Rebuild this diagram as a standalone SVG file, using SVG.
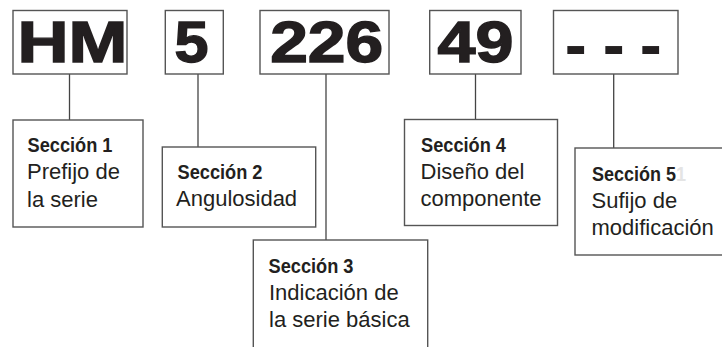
<svg xmlns="http://www.w3.org/2000/svg" width="722" height="347" viewBox="0 0 722 347">
<style>
.box{fill:#fff;stroke:#555;stroke-width:1.4}
.con line{stroke:#444;stroke-width:1.3}
.big{font-family:"Liberation Sans",Arial,sans-serif;font-weight:bold;font-size:57px;fill:#231f20;stroke:#231f20;stroke-width:1.4}
.h{font-family:"Liberation Sans",Arial,sans-serif;font-weight:bold;font-size:21px;fill:#231f20}
.t{font-family:"Liberation Sans",Arial,sans-serif;font-size:22px;fill:#231f20}
</style>
<rect width="722" height="347" fill="#fff"/>
<g class="con">
<line x1="69.5" y1="74" x2="69.5" y2="120"/>
<line x1="198" y1="74" x2="198" y2="147"/>
<line x1="326" y1="74" x2="326" y2="240"/>
<line x1="475.5" y1="74" x2="475.5" y2="119.5"/>
<line x1="613.7" y1="74" x2="613.7" y2="148"/>
</g>
<g id="code-hm">
<rect class="box" x="13" y="10.5" width="114" height="63.5"/>
<text class="big" x="17.5" y="62.3" textLength="110" lengthAdjust="spacingAndGlyphs">HM</text>
</g>
<g id="code-5">
<rect class="box" x="165.3" y="10.5" width="58" height="63.5"/>
<text class="big" x="191.4" y="62.3" text-anchor="middle" textLength="34" lengthAdjust="spacingAndGlyphs">5</text>
</g>
<g id="code-226">
<rect class="box" x="260" y="10.5" width="129" height="63.5"/>
<text class="big" x="326.7" y="62.3" text-anchor="middle" textLength="113" lengthAdjust="spacingAndGlyphs">226</text>
</g>
<g id="code-49">
<rect class="box" x="429.7" y="10.5" width="91.3" height="63.5"/>
<text class="big" x="475.5" y="62.3" text-anchor="middle" textLength="76" lengthAdjust="spacingAndGlyphs">49</text>
</g>
<g id="code-dashes">
<rect class="box" x="553.5" y="10.5" width="124.5" height="63.5"/>
<text class="big" style="font-size:66px;stroke:none" x="575.8 613.8 650.8" y="67.3" text-anchor="middle">---</text>
</g>
<g id="sec1">
<rect class="box" x="13" y="120" width="130" height="107"/>
<text class="h" x="27.5" y="152" textLength="85" lengthAdjust="spacingAndGlyphs">Sección 1</text>
<text class="t" x="27" y="179">Prefijo de</text>
<text class="t" x="27" y="207">la serie</text>
</g>
<g id="sec2">
<rect class="box" x="162.3" y="147" width="153.4" height="80"/>
<text class="h" x="177.5" y="179" textLength="85" lengthAdjust="spacingAndGlyphs">Sección 2</text>
<text class="t" x="176" y="206">Angulosidad</text>
</g>
<g id="sec3">
<rect class="box" x="253.3" y="240" width="174.4" height="130"/>
<text class="h" x="268.5" y="273" textLength="85" lengthAdjust="spacingAndGlyphs">Sección 3</text>
<text class="t" x="269" y="299.5">Indicación de</text>
<text class="t" x="269" y="326.5">la serie básica</text>
</g>
<g id="sec4">
<rect class="box" x="404.5" y="119.5" width="153" height="106"/>
<text class="h" x="421" y="152" textLength="85" lengthAdjust="spacingAndGlyphs">Sección 4</text>
<text class="t" x="420.5" y="178.5">Diseño del</text>
<text class="t" x="420.5" y="205.5">componente</text>
</g>
<g id="sec5">
<rect class="box" x="575" y="148" width="170" height="107"/>
<text class="h" x="592" y="181" textLength="94" lengthAdjust="spacingAndGlyphs">Sección 5<tspan style="fill:#e4e4e4">1</tspan></text>
<text class="t" x="591.5" y="207.5">Sufijo de</text>
<text class="t" x="591.5" y="234.5">modificación</text>
</g>
</svg>
